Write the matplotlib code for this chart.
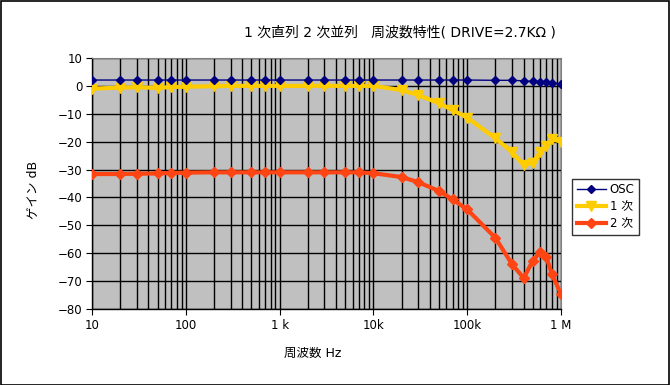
import matplotlib
matplotlib.use("Agg")
import matplotlib.pyplot as plt
from matplotlib.patches import Rectangle
from matplotlib.ticker import FixedLocator, LogLocator, NullFormatter

plt.rcParams['font.family'] = ['DejaVu Sans', 'Noto Sans CJK JP']
plt.rcParams['axes.unicode_minus'] = True

# frequencies (Hz)
freq = [10, 20, 30, 50, 70, 100, 200, 300, 500, 700,
        1e3, 2e3, 3e3, 5e3, 7e3, 1e4, 2e4, 3e4, 5e4, 7e4,
        1e5, 2e5, 3e5, 4e5, 5e5, 6e5, 7e5, 8e5, 1e6]

osc = [2.1, 2.1, 2.1, 2.1, 2.1, 2.1, 2.1, 2.1, 2.1, 2.1,
       2.1, 2.1, 2.1, 2.1, 2.1, 2.1, 2.1, 2.1, 2.1, 2.1,
       2.1, 2.0, 2.0, 1.8, 1.6, 1.5, 1.4, 1.2, 0.5]

ji1 = [-1.0, -0.6, -0.5, -0.7, -0.4, -0.3, -0.1, 0.0, 0.0, 0.0,
       0.0, 0.0, 0.0, 0.0, 0.0, 0.0, -1.5, -3.3, -6.2, -8.7,
       -11.4, -18.8, -23.7, -28.4, -27.5, -23.6, -21.5, -19.1, -20.0]

ji2 = [-31.6, -31.6, -31.5, -31.4, -31.2, -31.1, -31.0, -31.0, -31.0, -31.0,
       -31.0, -31.0, -31.0, -31.0, -31.0, -31.3, -32.7, -34.5, -37.7, -40.7,
       -44.3, -54.5, -63.9, -68.9, -62.7, -59.6, -61.5, -67.5, -74.7]

xticks = [10, 100, 1e3, 1e4, 1e5, 1e6]
xlabels = ['10', '100', '1 k', '10k', '100k', '1 M']
yticks = list(range(-80, 11, 10))

fig = plt.figure(figsize=(6.7, 3.85), dpi=100)
ax = fig.add_axes([92 / 670, 1 - 309 / 385, 469 / 670, 251 / 385])
ax.set_facecolor('#C0C0C0')

ax.plot(freq, osc, color='#000080', lw=1.0, marker='D', ms=4.5,
        label='OSC', zorder=5)
ax.plot(freq, ji1, color='#FFCC00', lw=3, marker='v', ms=7.5,
        label='1 次', zorder=4)
ax.plot(freq, ji2, color='#FF4514', lw=3, marker='D', ms=5.5,
        label='2 次', zorder=4)

ax.set_xscale('log')
ax.set_xlim(10, 1e6)
ax.set_ylim(-80, 10)
ax.xaxis.set_major_locator(FixedLocator(xticks))
ax.set_xticklabels(xlabels)
ax.xaxis.set_minor_locator(LogLocator(base=10, subs=range(2, 10)))
ax.xaxis.set_minor_formatter(NullFormatter())
ax.set_yticks(yticks)
ax.grid(True, which='both', axis='x', color='black', lw=1.0)
ax.grid(True, which='major', axis='y', color='black', lw=1.0)
ax.set_axisbelow(True)
ax.tick_params(axis='both', which='major', direction='out', length=4,
               labelsize=8.5, colors='black', pad=3)
ax.tick_params(axis='x', which='minor', length=0)
for s in ['top', 'right']:
    ax.spines[s].set_color('#808080')
    ax.spines[s].set_linewidth(0.8)
for s in ['left', 'bottom']:
    ax.spines[s].set_linewidth(1.0)

fig.text(400 / 670, 1 - 33 / 385, '1 次直列 2 次並列   周波数特性( DRIVE=2.7KΩ )',
         ha='center', va='center', fontsize=10)
fig.text(33 / 670, 1 - 190 / 385, 'ゲイン dB', rotation=90,
         ha='center', va='center', fontsize=9)
fig.text(313 / 670, 1 - 353 / 385, '周波数 Hz',
         ha='center', va='center', fontsize=9)

leg = ax.legend(loc='center left', bbox_to_anchor=(572 / 670, 1 - 207 / 385),
                bbox_transform=fig.transFigure, fontsize=8.5, frameon=True,
                fancybox=False, edgecolor='black', borderpad=0.4,
                labelspacing=0.35, handlelength=2.5, handletextpad=0.3,
                borderaxespad=0)
leg.get_frame().set_linewidth(1.0)

fig.patches.append(Rectangle((0.001, 0.001), 0.997, 0.997, transform=fig.transFigure,
                             fill=False, edgecolor='black', lw=1.2))

fig.savefig('out.png', dpi=100)
